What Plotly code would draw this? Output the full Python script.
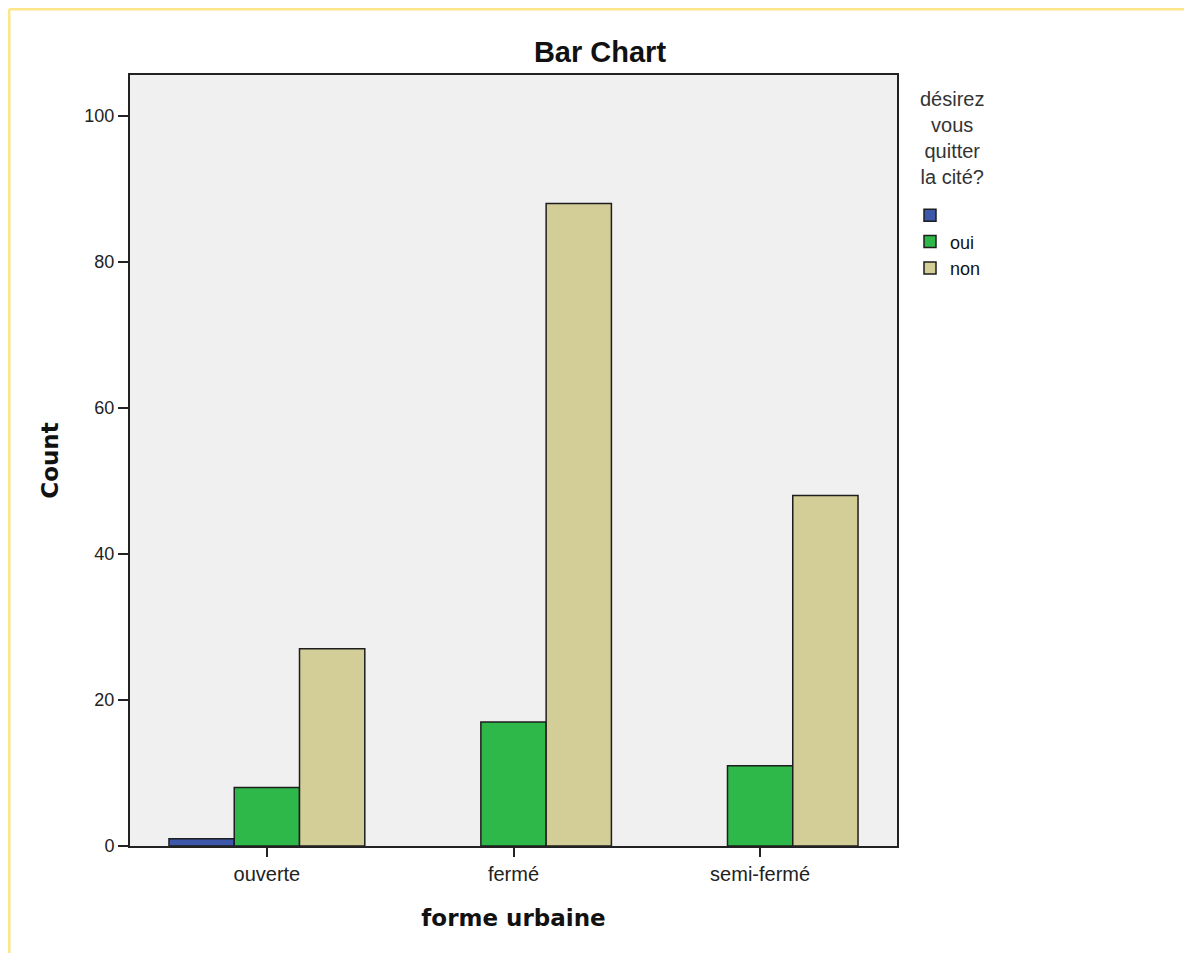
import plotly.graph_objects as go

categories = ['ouverte', 'fermé', 'semi-fermé']
blank_counts = [1, None, None]
oui_counts = [8, 17, 11]
non_counts = [27, 88, 48]
y_ticks = [0, 20, 40, 60, 80, 100]
legend_title = 'désirez<br>vous<br>quitter<br>la cité?'

sans = 'Liberation Sans, Arial, sans-serif'
bold_sans = 'DejaVu Sans, Verdana, sans-serif'
outline = dict(color='#1e1e1e', width=1.5)

W, H = 1184, 945
L, T, PW, PH = 122, 67, 767, 771

fig = go.Figure()
fig.add_trace(go.Bar(x=categories, y=blank_counts, name=' ', marker=dict(color='#3d58ab', line=outline)))
fig.add_trace(go.Bar(x=categories, y=oui_counts, name='oui', marker=dict(color='#2fb84a', line=outline)))
fig.add_trace(go.Bar(x=categories, y=non_counts, name='non', marker=dict(color='#d3ce97', line=outline)))

fig.update_layout(
    width=W, height=H,
    margin=dict(l=L, r=W - L - PW, t=T, b=H - T - PH),
    paper_bgcolor='white', plot_bgcolor='#f0f0f0',
    font=dict(family=sans, size=18, color='#222'),
    barmode='group', bargap=0.206, bargroupgap=0,
    title=dict(text='<b>Bar Chart</b>', x=0.5, xref='container', xanchor='center',
               y=1 - 44 / H, yref='container', yanchor='middle',
               font=dict(family=sans, size=29, color='#111')),
    legend=dict(
        x=(902 - L) / PW, y=1 - (189 - T) / PH, xanchor='left', yanchor='top',
        font=dict(family=sans, size=18, color='#111'), bgcolor='rgba(0,0,0,0)',
        itemwidth=30, tracegroupgap=0,
    ),
    hovermode=False,
)

# legend title as one centred block
fig.add_annotation(text=legend_title, xref='paper', yref='paper', x=(944 - L) / PW, y=1 - (130 - T) / PH,
                   xanchor='center', yanchor='middle', align='center', showarrow=False,
                   font=dict(family=sans, size=20, color='#333'))

fig.update_xaxes(
    range=[-0.555, 2.555], showline=True, linecolor='#222', linewidth=2, mirror=True,
    ticks='outside', ticklen=9, tickcolor='#222', tickwidth=2, showgrid=False,
    tickfont=dict(family=sans, size=20, color='#222'),
    title=dict(text='<b>forme urbaine</b>', font=dict(family=bold_sans, size=23, color='#111'), standoff=26),
)
fig.update_yaxes(
    range=[0, 105.6], showline=True, linecolor='#222', linewidth=2, mirror=True,
    ticks='outside', ticklen=10, tickcolor='#222', tickwidth=2, showgrid=False, zeroline=False,
    tickvals=y_ticks, tickfont=dict(family=sans, size=18, color='#222'),
    title=dict(text='<b>Count</b>', font=dict(family=bold_sans, size=23, color='#111'), standoff=19),
)

# yellow frame along top and left edge
top_y = 1 + (T - 1) / PH
left_x = (1 - L) / PW
fig.add_shape(type='line', xref='paper', yref='paper', x0=left_x, x1=(W - L) / PW, y0=top_y, y1=top_y,
              line=dict(color='#fde58a', width=3))
fig.add_shape(type='line', xref='paper', yref='paper', x0=left_x, x1=left_x, y0=top_y, y1=-(H - T - PH) / PH,
              line=dict(color='#fde58a', width=3))

fig.write_html('out.html')
